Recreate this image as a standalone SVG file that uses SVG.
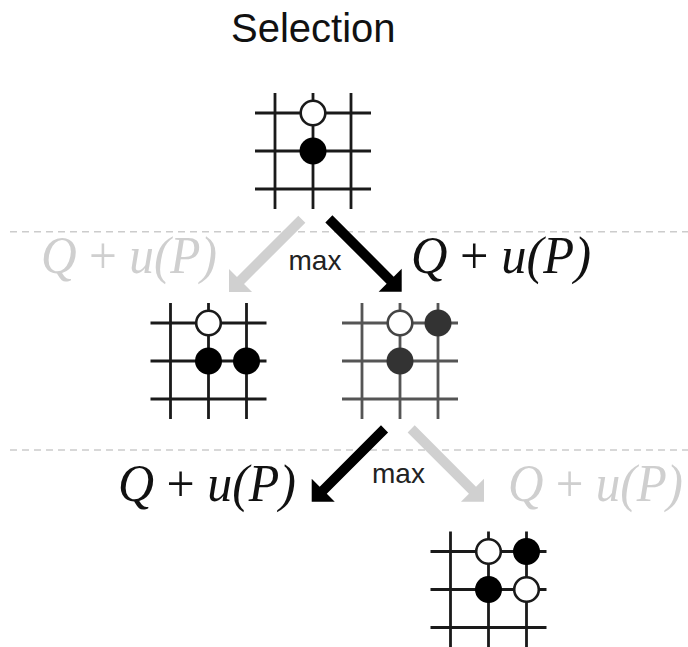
<svg xmlns="http://www.w3.org/2000/svg" xmlns:xlink="http://www.w3.org/1999/xlink" width="688" height="647" viewBox="0 0 688 647">
<style>
.grid{stroke:#1a1a1a;stroke-width:2.8;fill:none}
.grid.dim{stroke:#555}
.wb{fill:#fff;stroke:#1a1a1a;stroke-width:2.6}
.wb.dim{stroke:#444}
.bk{fill:#000}
.bk.dim{fill:#333}
.title{font-family:"Liberation Sans",Arial,sans-serif;font-size:40px;fill:#111}
.max{font-family:"Liberation Sans",Arial,sans-serif;font-size:28px;fill:#222}
.qu{font-family:"Liberation Serif","Times New Roman",serif;font-size:53px;font-style:italic}
.qu .up{font-style:normal}
.on{fill:#111}
.off{fill:#cfcfcf}
.dash{stroke:#cccccc;stroke-width:1.5;stroke-dasharray:7 5;fill:none}
</style>
<defs>
<path id="arrow" d="M-103,-5 H-16.3 V-16.3 L0,0 L-16.3,16.3 V5 H-103 Z"/>
<g id="grid3">
<path d="M-58,-38 H58 M-58,0 H58 M-58,38 H58 M-38,-58 V58 M0,-58 V58 M38,-58 V58"/>
</g>
</defs>
<rect width="688" height="647" fill="#fff"/>
<text class="title" x="231" y="42">Selection</text>

<g id="separators">
<line class="dash" x1="10" y1="231.7" x2="688" y2="231.7"/>
<line class="dash" x1="10" y1="450" x2="688" y2="450"/>
</g>

<g id="node-root">
<use xlink:href="#grid3" class="grid" transform="translate(313,151)"/>
<circle class="wb" cx="313" cy="113" r="12.3"/>
<circle class="bk" cx="313" cy="151" r="13.5"/>
</g>

<g id="node-left">
<use xlink:href="#grid3" class="grid" transform="translate(208.5,361)"/>
<circle class="wb" cx="208.5" cy="323" r="12.3"/>
<circle class="bk" cx="208.5" cy="361" r="13.5"/>
<circle class="bk" cx="246.5" cy="361" r="13.5"/>
</g>

<g id="node-right">
<use xlink:href="#grid3" class="grid dim" transform="translate(400,361)"/>
<circle class="wb dim" cx="400" cy="323" r="12.3"/>
<circle class="bk dim" cx="438" cy="323" r="13.5"/>
<circle class="bk dim" cx="400" cy="361" r="13.5"/>
</g>

<g id="node-leaf">
<use xlink:href="#grid3" class="grid" transform="translate(488.5,589.5)"/>
<circle class="wb" cx="488.5" cy="551.5" r="12.3"/>
<circle class="bk" cx="526.5" cy="551.5" r="13.5"/>
<circle class="bk" cx="488.5" cy="589.5" r="13.5"/>
<circle class="wb" cx="526.5" cy="589.5" r="12.3"/>
</g>

<g id="connectors">
<use xlink:href="#arrow" fill="#d0d0d0" transform="translate(229,292) rotate(135)"/>
<use xlink:href="#arrow" fill="#000" transform="translate(401.7,291.7) rotate(45)"/>
<use xlink:href="#arrow" fill="#000" transform="translate(311.7,501.7) rotate(135)"/>
<use xlink:href="#arrow" fill="#d0d0d0" transform="translate(484,501.7) rotate(45)"/>
</g>

<g id="labels">
<text class="max" x="288.5" y="270">max</text>
<text class="max" x="372" y="483.3">max</text>
<text class="qu off" x="41" y="273" textLength="176" lengthAdjust="spacingAndGlyphs">Q <tspan class="up">+</tspan> u(P)</text>
<text class="qu on" x="411" y="273" textLength="180" lengthAdjust="spacingAndGlyphs">Q <tspan class="up">+</tspan> u(P)</text>
<text class="qu on" x="118" y="501" textLength="178" lengthAdjust="spacingAndGlyphs">Q <tspan class="up">+</tspan> u(P)</text>
<text class="qu off" x="508" y="501" textLength="175" lengthAdjust="spacingAndGlyphs">Q <tspan class="up">+</tspan> u(P)</text>
</g>
</svg>
